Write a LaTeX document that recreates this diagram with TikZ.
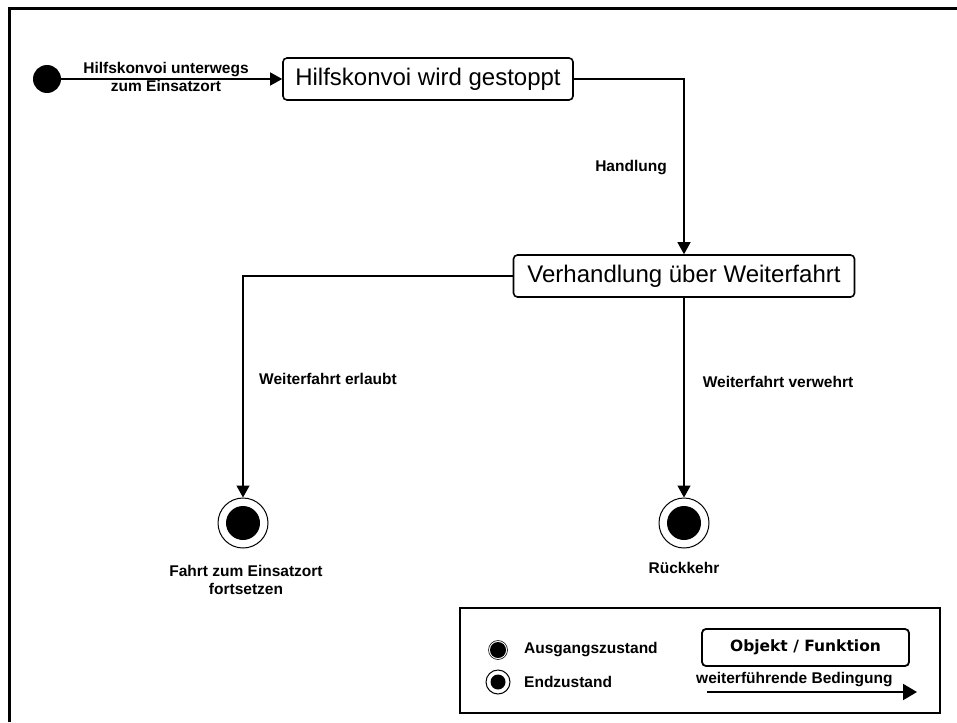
\documentclass[tikz,border=0pt]{standalone}
\usepackage{fontspec}
\setmainfont{Liberation Sans}
\newfontfamily\legendfont{DejaVu Sans}
\usetikzlibrary{arrows.meta}

\begin{document}
\begin{tikzpicture}[x=1pt,y=-1pt,
  frame/.style={line width=3pt},
  statebox/.style={draw, line width=1.6pt, rounded corners=4pt, inner sep=0pt,
    font=\fontsize{24}{28}\selectfont},
  flow/.style={line width=1.3pt, -{Triangle[length=12pt,width=13pt]}},
  lbl/.style={font=\bfseries\fontsize{15.5}{18}\selectfont, align=center, inner sep=0pt},
  startdot/.style={circle, fill=black, inner sep=0pt, minimum size=#1},
  endring/.style={circle, draw, line width=1pt, inner sep=0pt, minimum size=#1},
  legendbox/.style={draw, line width=1.3pt},
  legendobj/.style={draw, line width=1.8pt, rounded corners=4pt, inner sep=0pt,
    font=\legendfont\bfseries\fontsize{15.5}{18}\selectfont},
  legendarrow/.style={line width=2pt, -{Triangle[length=14pt,width=16pt]}}
]
\useasboundingbox (0,0) rectangle (957,722);

% outer frame (only top and left edges fall inside the page)
\draw[frame] (9,722) -- (9,9) -- (957,9);

% states
\node[startdot=28pt] (start) at (47,79) {};
\node[statebox, minimum width=290pt, minimum height=42pt] (box1) at (428,79)
  {Hilfskonvoi wird gestoppt};
\node[statebox, minimum width=341pt, minimum height=42pt] (box2) at (684,276)
  {Verhandlung über Weiterfahrt};

\node[endring=50pt] (endA) at (243,523) {};
\node[startdot=34pt] at (endA) {};
\node[endring=50pt] (endB) at (684,523) {};
\node[startdot=34pt] at (endB) {};

% transitions
\draw[flow] (start) -- (box1.west);
\draw[flow] (box1.east) -| (box2.north);
\draw[flow] (box2.west) -| (endA.north);
\draw[flow] (box2.south) -- (endB.north);

% labels
\node[lbl] (l1) at (166,77) {Hilfskonvoi unterwegs\\zum Einsatzort};
\node[lbl] (l2) at (631,168) {Handlung};
\node[lbl] (l3) at (328,379) {Weiterfahrt erlaubt};
\node[lbl] (l4) at (778,382) {Weiterfahrt verwehrt};
\node[lbl] (l5) at (246,580) {Fahrt zum Einsatzort\\fortsetzen};
\node[lbl] (l6) at (684,568) {Rückkehr};

% legend
\node[legendbox, minimum width=480pt, minimum height=105pt] (legend) at (700,660.5) {};
\node[startdot=16pt] (lgStart) at (498,650) {};
\node[circle, draw, line width=0.6pt, minimum size=19pt, inner sep=0pt] at (lgStart) {};
\node[endring=24pt] (lgEnd) at (498,682) {};
\node[startdot=15pt] at (lgEnd) {};
\node[lbl, anchor=west] (lgT1) at (524,650) {Ausgangszustand};
\node[lbl, anchor=west] (lgT2) at (524,682) {Endzustand};
\node[legendobj, minimum width=207pt, minimum height=37pt] (lgObj) at (805.5,647.5)
  {Objekt / Funktion};
\node[lbl, anchor=west] (lgT3) at (696,680) {weiterführende Bedingung};
\coordinate (lgA) at (707,692);
\coordinate (lgB) at (917,692);
\draw[legendarrow] (lgA) -- (lgB);
\end{tikzpicture}
\end{document}
